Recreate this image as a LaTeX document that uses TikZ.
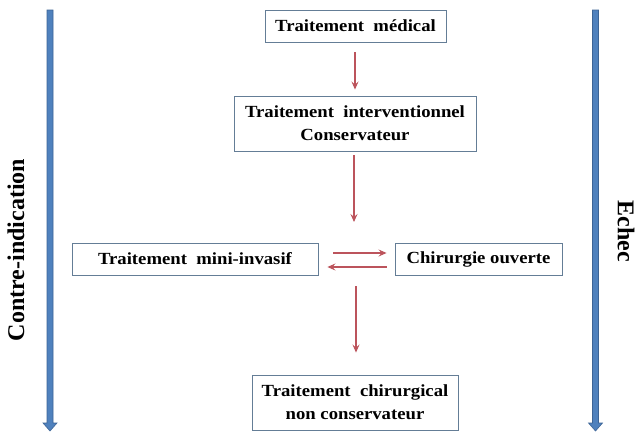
\documentclass[tikz,border=0pt]{standalone}
\usepackage{fontspec}
\setmainfont{Liberation Serif}
\newfontfamily\boxfont{Liberation Serif}[FakeStretch=1.1]
\usetikzlibrary{arrows.meta}
\definecolor{barblue}{RGB}{79,129,189}
\definecolor{bardark}{RGB}{60,100,150}
\definecolor{boxline}{RGB}{100,125,150}
\definecolor{arrred}{RGB}{188,84,92}
\begin{document}
\begin{tikzpicture}[x=1pt,y=-1pt,
  stepbox/.style={draw=boxline, line width=0.9pt, fill=white, inner sep=0pt, align=center,
    font=\boxfont\bfseries\fontsize{17}{23}\selectfont},
  flow/.style={draw=arrred, line width=1.1pt, -{Stealth[length=8pt,width=7pt,inset=3pt]}},
  sidebar/.style={fill=barblue, draw=bardark, line width=0.6pt},
  sidelabel/.style={font=\bfseries\fontsize{24}{28}\selectfont, inner sep=0pt}]
\useasboundingbox[fill=white] (0,0) rectangle (638,432);

% side bars
\filldraw[sidebar] (47,10) -- (53,10) -- (53,423) -- (57,423) -- (50,431) -- (43,423) -- (47,423) -- cycle;
\filldraw[sidebar] (592.5,10) -- (598.5,10) -- (598.5,423) -- (602.5,423) -- (595.5,431) -- (588.5,423) -- (592.5,423) -- cycle;
\node[sidelabel, rotate=90] (ci) at (16,250) {Contre-indication};
\node[sidelabel, rotate=-90] (ec) at (626,231) {Echec};

% boxes
\node[stepbox, minimum width=181pt, minimum height=32pt] (b1) at (355.5,26) {Traitement\ \ médical};
\node[stepbox, minimum width=242pt, minimum height=55pt] (b2) at (355,123.5) {Traitement\ \ interventionnel\\Conservateur};
\node[stepbox, minimum width=246pt, minimum height=32pt] (b3) at (195,259) {Traitement\ \ mini-invasif};
\node[stepbox, minimum width=167pt, minimum height=32pt] (b4) at (478.5,259) {Chirurgie ouverte};
\node[stepbox, minimum width=206pt, minimum height=55pt] (b5) at (355,402.5) {Traitement\ \ chirurgical\\non conservateur};

% connector helper points
\coordinate (m1) at (354,222);
\coordinate (m2) at (356,286);

% arrows
\draw[flow] ([xshift=-0.5pt,yshift=-10pt]b1.south) -- ([yshift=6pt]b2.north);
\draw[flow] ([xshift=-1pt,yshift=-4pt]b2.south) -- (m1);
\draw[flow] (m2) -- ([xshift=1pt,yshift=22pt]b5.north);
\draw[flow] ([xshift=15pt,yshift=6pt]b3.east) -- ([xshift=-8pt,yshift=6pt]b4.west);
\draw[flow] ([xshift=-8pt,yshift=-8pt]b4.west) -- ([xshift=9pt,yshift=-8pt]b3.east);
\end{tikzpicture}
\end{document}
